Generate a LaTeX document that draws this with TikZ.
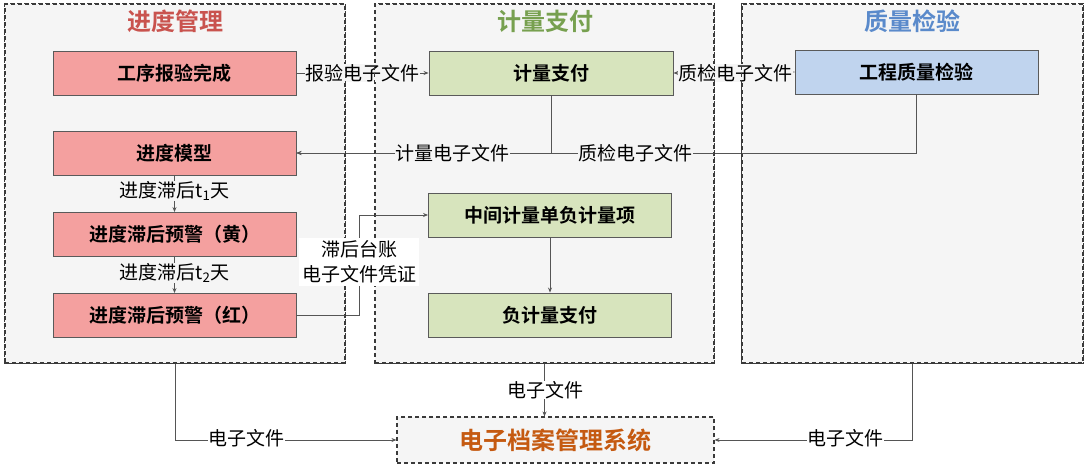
\documentclass[tikz,border=0pt]{standalone}
\usepackage{fontspec}
\setmainfont{Noto Sans CJK SC}[BoldFont={Noto Sans CJK SC Bold}]
\usetikzlibrary{arrows.meta}
\definecolor{panelbg}{HTML}{F5F5F5}
\definecolor{paneledge}{HTML}{3A3A3A}
\definecolor{pinkfill}{HTML}{F4A09F}
\definecolor{greenfill}{HTML}{D7E4BD}
\definecolor{bluefill}{HTML}{C0D4EE}
\definecolor{boxedge}{HTML}{5A5A5A}
\definecolor{linec}{HTML}{555555}
\definecolor{tred}{HTML}{C9534E}
\definecolor{tgreen}{HTML}{77A04F}
\definecolor{tblue}{HTML}{5A8ACB}
\definecolor{torange}{HTML}{C55A11}
\tikzset{
  panel/.style={draw=paneledge, fill=panelbg, line width=1.1pt, dash pattern=on 4pt off 3pt, minimum height=359pt, inner sep=0pt},
  panelline/.style={draw=paneledge, line width=1.1pt, dash pattern=on 4pt off 3pt},
  ptitle/.style={font=\fontsize{24}{27}\selectfont\bfseries},
  procbox/.style={draw=boxedge, line width=0.9pt, minimum width=243pt, minimum height=44pt, inner sep=0pt, font=\fontsize{19}{22}\selectfont\bfseries},
  redbox/.style={procbox, fill=pinkfill},
  greenbox/.style={procbox, fill=greenfill},
  bluebox/.style={procbox, fill=bluefill},
  conn/.style={draw=linec, line width=0.8pt},
  arr/.style={conn, -{Stealth[length=5pt,width=4pt]}},
  lbl/.style={font=\fontsize{19}{22}\selectfont, fill=panelbg, inner sep=0.5pt},
}
\begin{document}
\begin{tikzpicture}[x=1pt,y=-1pt]
\useasboundingbox (0,0) rectangle (1087,469);
\fill[white] (0,0) rectangle (1087,469);
% panels
\node[panel, minimum width=340pt] (pL) at (175,183.5) {};
\node[panel, minimum width=339pt] (pM) at (544.5,183.5) {};
\node[panel, minimum width=341pt] (pR) at (912.5,183.5) {};
\node[ptitle, text=tred] (tL) at (175,21) {进度管理};
\node[ptitle, text=tgreen] (tM) at (545,21) {计量支付};
\node[ptitle, text=tblue] (tR) at (912,21) {质量检验};
% boxes
\node[redbox] (b1) at (174.5,73) {工序报验完成};
\node[redbox] (b2) at (174.5,153) {进度模型};
\node[redbox] (b3) at (174.5,234.5) {进度滞后预警（黄）};
\node[redbox] (b4) at (174.5,315.5) {进度滞后预警（红）};
\node[greenbox, minimum width=244pt] (m1) at (551,73) {计量支付};
\node[greenbox] (m2) at (550,215) {中间计量单负计量项};
\node[greenbox] (m3) at (550,315) {负计量支付};
\node[bluebox] (r1) at (916.5,72) {工程质量检验};
\node[draw=paneledge, fill=panelbg, line width=1.1pt, dash pattern=on 4pt off 3pt, minimum width=317pt, minimum height=46pt, inner sep=0pt, font=\fontsize{24}{27}\selectfont\bfseries, text=torange] (arch) at (555.5,440) {电子档案管理系统};
% connectors
\coordinate (k1) at (359,215);
\coordinate (kM) at (pM.south);
\draw[arr] (b1.east) -- (m1.west);
\draw[arr] (r1.west) -- (m1.east);
\draw[arr] (m1.south) |- (b2.east);
\draw[arr] (r1.south) |- (b2.east);
\draw[arr] (b2.south) -- (b3.north);
\draw[arr] (b3.south) -- (b4.north);
\draw[arr] (b4.east) -| (k1) -- (m2.west);
\draw[arr] (m2.south) -- (m3.north);
\draw[arr] (pL.south) |- (arch.west);
\draw[arr] (kM) -- (kM |- arch.north);
\draw[arr] (pR.south) |- (arch.east);
% labels
\node[lbl] (l1) at (362,73) {报验电子文件};
\node[lbl] (l2) at (735,73) {质检电子文件};
\node[lbl] (l3) at (452,153) {计量电子文件};
\node[lbl] (l4) at (635,153) {质检电子文件};
\node[lbl] (l5) at (174.5,191) {进度滞后t\textsubscript{1}天};
\node[lbl] (l6) at (174.5,273) {进度滞后t\textsubscript{2}天};
\node[lbl, fill=white] (l8) at (545,390) {电子文件};
\node[lbl, fill=white] (l9) at (246,438) {电子文件};
\node[lbl, fill=white] (l10) at (845,438) {电子文件};
% redraw panel borders over labels
\draw[panelline] (pL.north west) rectangle (pL.south east);
\draw[panelline] (pM.north west) rectangle (pM.south east);
\draw[panelline] (pR.north west) rectangle (pR.south east);
\node[lbl, fill=white, align=center, inner sep=3pt, font=\fontsize{19}{25}\selectfont] (l7) at (359,262) {滞后台账\\电子文件凭证};
\end{tikzpicture}
\end{document}
